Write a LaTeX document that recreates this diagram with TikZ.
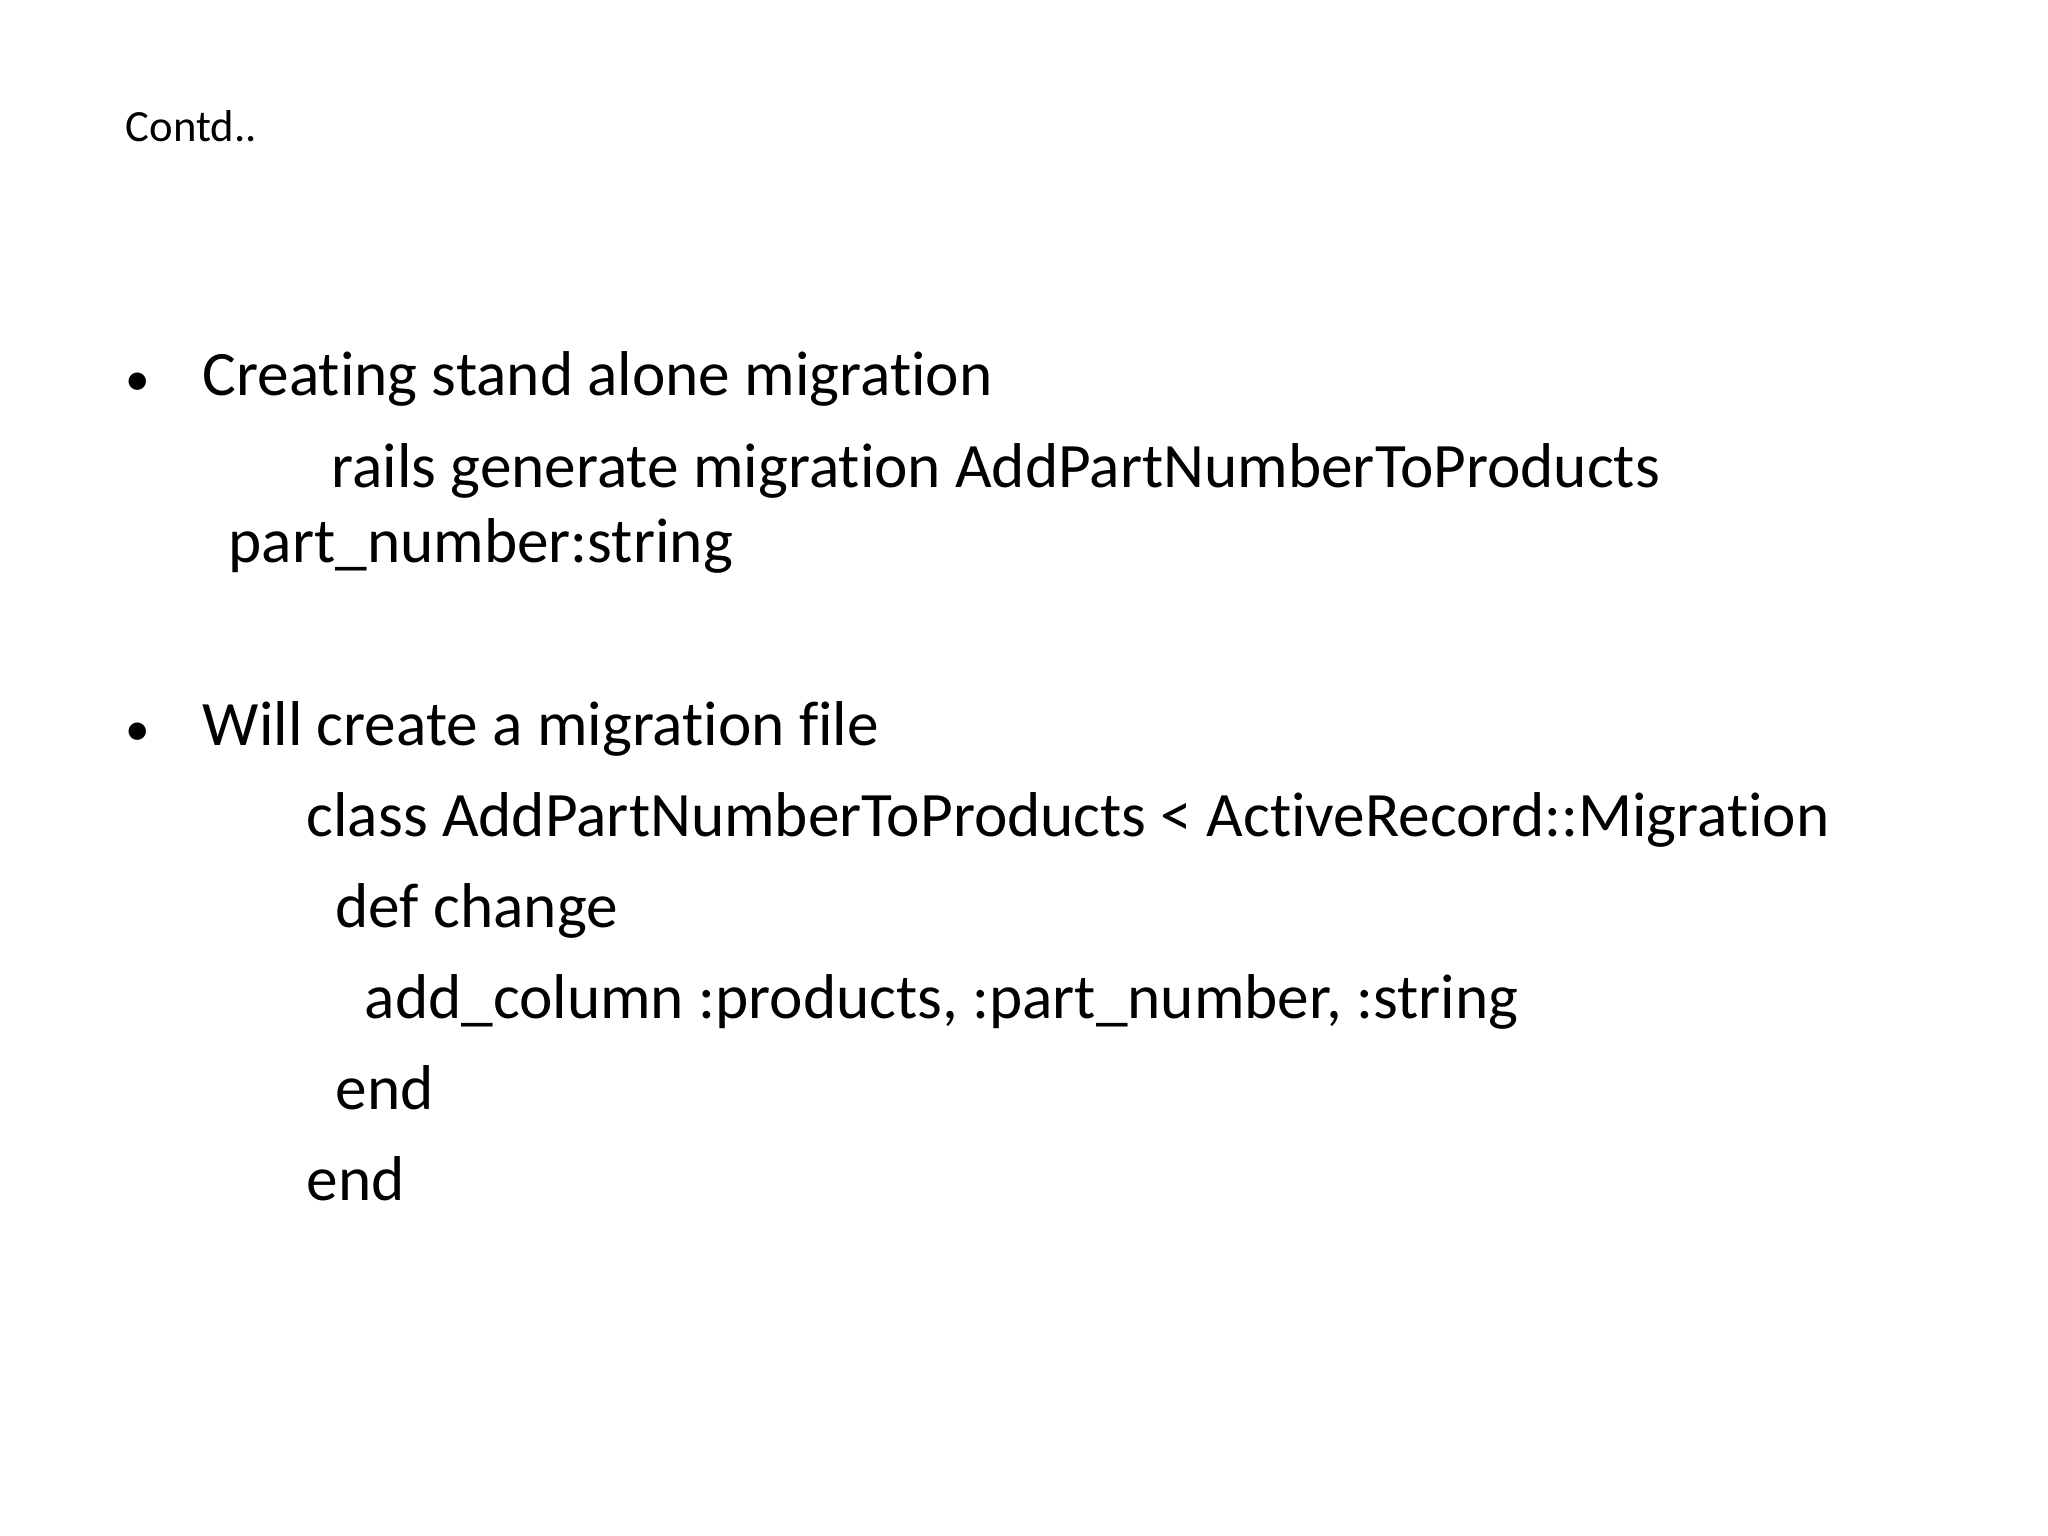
\documentclass[tikz,border=0pt]{standalone}
\usepackage{fontspec}
\setmainfont[Ligatures=NoCommon]{Carlito}
\begin{document}
\begin{tikzpicture}[x=0.01cm,y=-0.01cm,
  t/.style={anchor=base west,inner sep=0pt,font=\fontsize{18}{22}\selectfont},
  bl/.style={anchor=base west,inner sep=0pt,font=\fontsize{14}{16}\selectfont},
  s/.style={anchor=base west,inner sep=0pt,font=\fontsize{12.7}{15}\selectfont}]
\useasboundingbox (0,0) rectangle (2048,1536);
\node[s] (c) at (125,141) {Contd..};
\node[bl] (b1) at (125,395) {•};
\node[t] (l1) at (202,395) {Creating stand alone migration};
\node[t] (l2) at (331,487) {rails generate migration AddPartNumberToProducts};
\node[t] (l3) at (228,562) {part\_number:string};
\node[bl] (b2) at (125,745) {•};
\node[t] (l4) at (202,745) {Will create a migration file};
\node[t] (l5) at (306,836) {class AddPartNumberToProducts < ActiveRecord::Migration};
\node[t] (l6) at (335,927) {def change};
\node[t] (l7) at (364,1018) {add\_column :products, :part\_number, :string};
\node[t] (l8) at (335,1109) {end};
\node[t] (l9) at (306,1200) {end};
\end{tikzpicture}
\end{document}
